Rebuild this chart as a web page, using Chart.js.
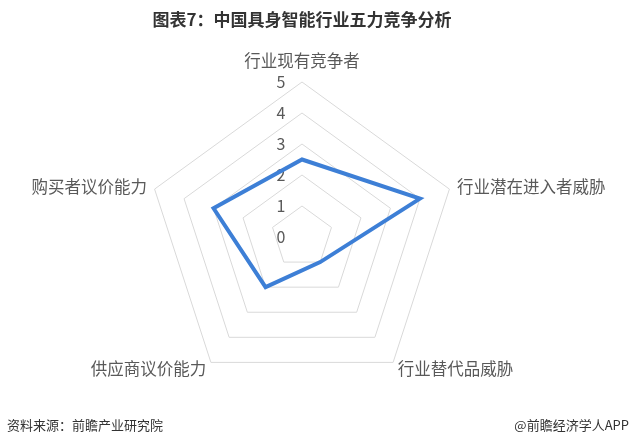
<!DOCTYPE html>
<html lang="zh-CN">
<head>
<meta charset="UTF-8">
<title>中国具身智能行业五力竞争分析</title>
<script src="https://cdn.jsdelivr.net/npm/chart.js"></script>
<style>
  body { margin: 0; background: #fff; }
  #wrap { position: relative; width: 631px; height: 444px; }
  .note { position: absolute; top: 415px; line-height: 18px; font: 13px "Noto Sans CJK SC", sans-serif; color: #333; }
</style>
</head>
<body>
<div id="wrap">
  <canvas id="myChart" width="631" height="444"></canvas>
  <div class="note" style="left:7px">资料来源：前瞻产业研究院</div>
  <div class="note" style="right:2px">@前瞻经济学人APP</div>
</div>
<script>
const forces = ['行业现有竞争者', '行业潜在进入者威胁', '行业替代品威胁', '供应商议价能力', '购买者议价能力'];
const scores = [2.5, 4, 1, 2, 3];
const tickValues = [0, 1, 2, 3, 4, 5];

// Excel-style labels: tick numbers left of the axis, category names centred on their vertex
const radarText = {
    id: 'radarText',
    beforeDatasetsDraw(chart) {
        const r = chart.scales.r;
        const ctx = chart.ctx;
        ctx.save();
        ctx.fillStyle = '#595959';
        ctx.textBaseline = 'middle';

        ctx.font = '16px "Noto Sans CJK SC", sans-serif';
        ctx.textAlign = 'center';
        tickValues.forEach(v => {
            const y = r.yCenter - r.getDistanceFromCenterForValue(v);
            ctx.fillText(String(v), r.xCenter - 21, y);
        });

        ctx.font = '16.5px "Noto Sans CJK SC", sans-serif';
        forces.forEach((name, i) => {
            const p = r.getPointPosition(i, r.drawingArea + 8);
            let y = p.y;
            if (p.x > r.xCenter + 1) ctx.textAlign = 'left';
            else if (p.x < r.xCenter - 1) ctx.textAlign = 'right';
            else { ctx.textAlign = 'center'; y -= 13; }
            ctx.fillText(name, p.x, y);
        });
        ctx.restore();
    }
};

new Chart(document.getElementById('myChart').getContext('2d'), {
    type: 'radar',
    data: {
        labels: forces,
        datasets: [{
            data: scores,
            borderColor: '#3d7fd6',
            borderWidth: 4,
            borderJoinStyle: 'miter',
            fill: false,
            pointRadius: 0,
            tension: 0
        }]
    },
    options: {
        responsive: false,
        animation: false,
        layout: { padding: { top: 0, bottom: 51, left: 0, right: 27 } },
        plugins: {
            legend: { display: false },
            tooltip: { enabled: false },
            title: {
                display: true,
                text: '图表7：中国具身智能行业五力竞争分析',
                color: '#333',
                font: { family: '"Noto Sans CJK SC", sans-serif', size: 17, weight: 'bold' },
                padding: { top: 9, bottom: 52 }
            }
        },
        scales: {
            r: {
                min: 0,
                max: 5,
                ticks: { stepSize: 1, display: false },
                grid: { color: '#d9d9d9', lineWidth: 1 },
                angleLines: { display: false },
                pointLabels: { display: false }
            }
        }
    },
    plugins: [radarText]
});
</script>
</body>
</html>
